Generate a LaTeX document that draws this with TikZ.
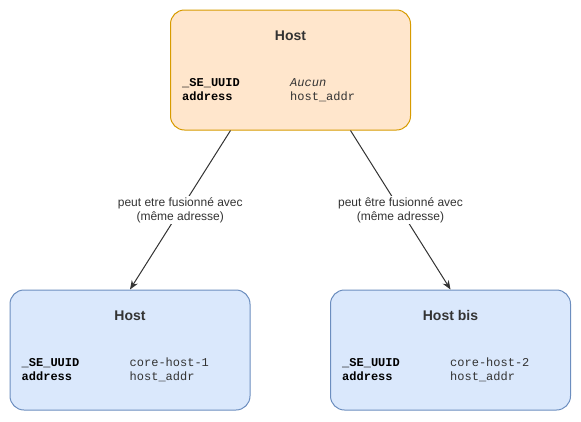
\documentclass[tikz,border=0pt]{standalone}
\usepackage{fontspec}
\setmainfont{Liberation Sans}
\setmonofont{Liberation Mono}
\usetikzlibrary{arrows.meta, positioning, calc}
\definecolor{hostfill}{HTML}{FFE6CC}
\definecolor{hostline}{HTML}{D79B00}
\definecolor{copyfill}{HTML}{DAE8FC}
\definecolor{copyline}{HTML}{6C8EBF}
\definecolor{inkdark}{HTML}{333333}
\newcommand{\hostbox}[7]{%
  \node[#4, line width=1pt, rounded corners=14pt, minimum width=240pt,
        minimum height=120pt, inner sep=0pt] (#1) at (#2,#3) {};
  \node[boxtitle] (#1-title) at ($(#1.north)+(0,31)$) {#5};
  \node[keytext] (#1-k1) at ($(#1.north west)+(12,77)$) {\_SE\_UUID};
  \node[keytext] (#1-k2) at ($(#1.north west)+(12,91)$) {address};
  \node[valtext] (#1-v1) at ($(#1.north west)+(120,77)$) {#6};
  \node[valtext] (#1-v2) at ($(#1.north west)+(120,91)$) {#7};}
\tikzset{
  boxtitle/.style={anchor=base, inner sep=0pt, text=inkdark,
                   font=\fontsize{14}{16}\selectfont\bfseries},
  keytext/.style={anchor=base west, inner sep=0pt, text=black,
                  font=\fontsize{12}{14}\selectfont\ttfamily\bfseries},
  valtext/.style={anchor=base west, inner sep=0pt, text=inkdark,
                  font=\fontsize{12}{14}\selectfont\ttfamily},
  linkarrow/.style={-{Stealth[length=9pt, width=7pt]}, inkdark, line width=1pt},
  linklabel/.style={fill=white, inner sep=1pt, align=center, text=inkdark,
                    font=\fontsize{12}{14}\selectfont},
}
\begin{document}
\begin{tikzpicture}[x=1pt, y=-1pt]
      \useasboundingbox (0,0) rectangle (581,421);
      \hostbox{host}{290.5}{70}{draw=hostline, fill=hostfill}{Host}{\itshape Aucun}{host\_addr}
      \hostbox{hostA}{130}{350}{draw=copyline, fill=copyfill}{Host}{core-host-1}{host\_addr}
      \hostbox{hostB}{450.5}{350}{draw=copyline, fill=copyfill}{Host bis}{core-host-2}{host\_addr}
      \draw[linkarrow] ($(host.south)+(-60,0)$) -- node[linklabel] {peut etre fusionné avec\\(même adresse)} (hostA.north);
      \draw[linkarrow] ($(host.south)+(60,0)$) -- node[linklabel] {peut être fusionné avec\\(même adresse)} (hostB.north);
    \end{tikzpicture}
\end{document}
